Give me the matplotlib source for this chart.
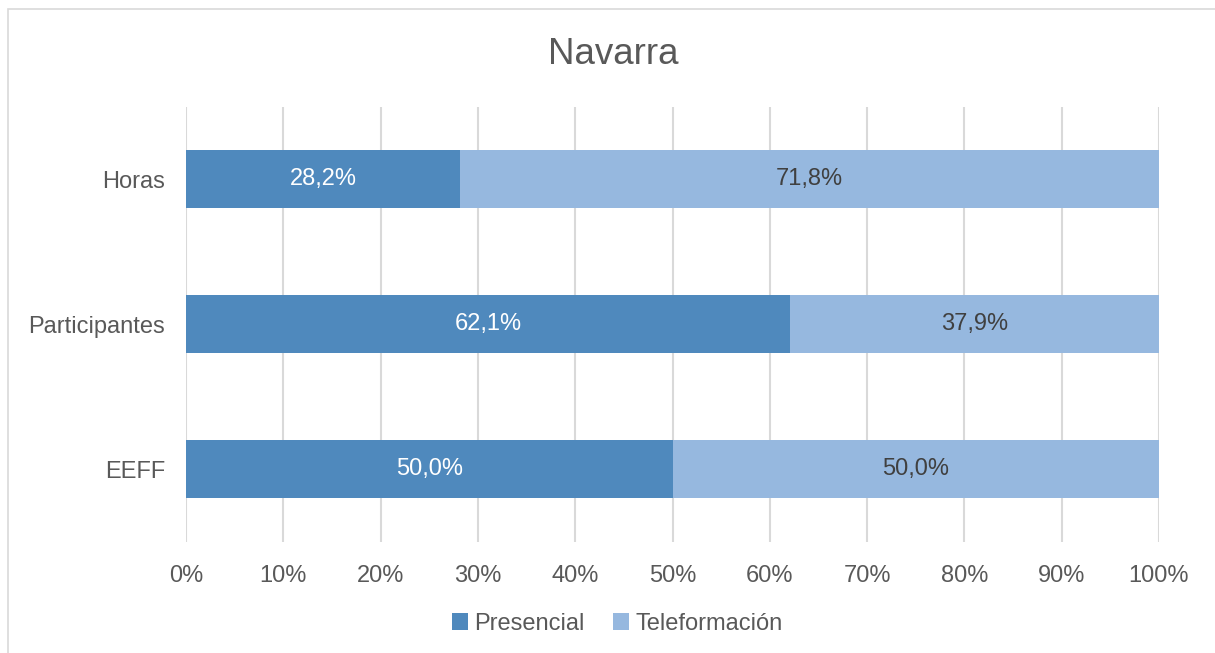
import numpy as np
import matplotlib
matplotlib.use("Agg")
import matplotlib.pyplot as plt
from matplotlib.patches import Rectangle

plt.rcParams['font.family'] = ['Liberation Sans', 'DejaVu Sans']

categorias = ["EEFF", "Participantes", "Horas"]
presencial = [50.0, 62.1, 28.2]
teleformacion = [50.0, 37.9, 71.8]
ticks = [0, 10, 20, 30, 40, 50, 60, 70, 80, 90, 100]

c_pres = "#4F89BD"
c_tele = "#96B8DF"
gris = "#595959"

W, H = 1215, 653
fig = plt.figure(figsize=(W / 100, H / 100), dpi=100)
ax = fig.add_axes([186 / W, 1 - 541.5 / H, (1159 - 186) / W, (541.5 - 106.5) / H])

# marco del grafico (recortado a derecha y abajo)
fig.patches.append(Rectangle((8 / W, -0.05), 1.1, 1 - 9 / H + 0.05, transform=fig.transFigure,
                             fill=False, edgecolor="#D9D9D9", linewidth=1.2))

y = np.arange(len(categorias))
b1 = ax.barh(y, presencial, height=0.4, color=c_pres, label="Presencial", zorder=3)
b2 = ax.barh(y, teleformacion, left=presencial, height=0.4, color=c_tele, label="Teleformación", zorder=3)

for i in range(len(categorias)):
    ax.text(presencial[i] / 2, y[i], f"{presencial[i]:.1f}%".replace(".", ","),
            ha="center", va="center", color="white", fontsize=17, zorder=4)
    ax.text(presencial[i] + teleformacion[i] / 2, y[i], f"{teleformacion[i]:.1f}%".replace(".", ","),
            ha="center", va="center", color="#404040", fontsize=17, zorder=4)

ax.set_xlim(0, 100)
ax.set_ylim(-0.5, 2.5)
ax.set_xticks(ticks)
ax.set_xticklabels([f"{t}%" for t in ticks])
ax.set_yticks(y)
ax.set_yticklabels(categorias)
ax.tick_params(axis="both", length=0, labelsize=17, colors=gris)
ax.tick_params(axis="x", pad=17)
ax.tick_params(axis="y", pad=15)
ax.grid(axis="x", color="#D9D9D9", linewidth=1.5, zorder=0)
for s in ax.spines.values():
    s.set_visible(False)

fig.text(613 / W, 1 - 55 / H, "Navarra", ha="center", va="center", fontsize=26.5, color=gris)

fig.legend(handles=[b1, b2], loc="center", bbox_to_anchor=(617 / W, 1 - 624 / H), ncol=2,
           frameon=False, fontsize=17, labelcolor=gris, handlelength=0.7, handleheight=0.7,
           handletextpad=0.25, columnspacing=1.2)

fig.savefig("out.png", dpi=100)
